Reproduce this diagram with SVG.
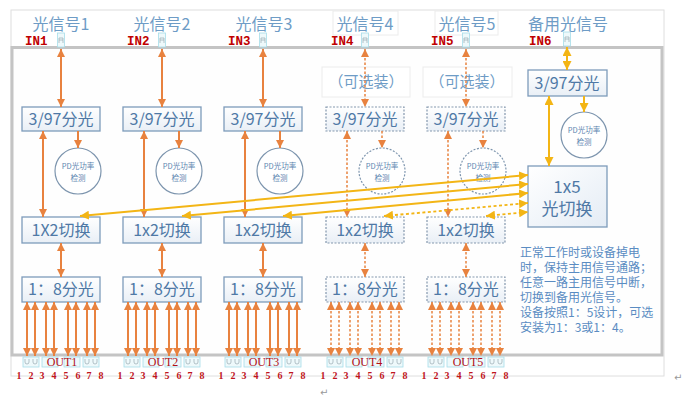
<svg xmlns="http://www.w3.org/2000/svg" width="689" height="411" viewBox="0 0 689 411">
<defs>
<linearGradient id="g" x1="0" y1="0" x2="0" y2="1"><stop offset="0" stop-color="#ffffff"/><stop offset="1" stop-color="#e9eff6"/></linearGradient>
<linearGradient id="g2" x1="0" y1="0" x2="1" y2="1"><stop offset="0" stop-color="#ffffff"/><stop offset="1" stop-color="#e4ecf5"/></linearGradient>
<marker id="mo" viewBox="0 0 10 10" refX="10" refY="5" markerWidth="8" markerHeight="8" markerUnits="userSpaceOnUse" orient="auto-start-reverse"><path d="M0,0 L10,5 L0,10 z" fill="#e8823f"/></marker>
<marker id="my" viewBox="0 0 10 10" refX="10" refY="5" markerWidth="9" markerHeight="9" markerUnits="userSpaceOnUse" orient="auto-start-reverse"><path d="M0,0 L10,5 L0,10 z" fill="#f3b515"/></marker>
<style>
.box{fill:url(#g);stroke:#7d9bbb;stroke-width:1.3}
.dbox{fill:url(#g);stroke:#8497ad;stroke-width:1.2;stroke-dasharray:2 1.5}
.circ{fill:#fff;stroke:#7d95ae;stroke-width:1.2}
.dcirc{fill:#fff;stroke:#7d95ae;stroke-width:1.2;stroke-dasharray:2 1.5}
.faint{fill:#fff;stroke:#ececec;stroke-width:1}
text{font-family:"Noto Sans CJK SC","Noto Sans",sans-serif}
.bt{font-size:16px;fill:#4f79a6;text-anchor:middle}
.pd{font-size:7.5px;fill:#5d86b0;text-anchor:middle}
.ti{font-size:16px;fill:#6e9cc6;text-anchor:middle}
.opt{font-size:15px;fill:#6e9cc6;text-anchor:middle}
.in{font-family:"Liberation Mono",monospace;font-weight:bold;font-size:12.5px;fill:#c00000}
.out{font-family:"Liberation Serif",serif;font-size:12px;fill:#b01018;text-anchor:middle}
.dg{font-family:"Liberation Serif",serif;font-weight:bold;font-size:10px;fill:#c0141c;text-anchor:middle}
.note{font-size:12px;fill:#5a8cc2}
.pm{font-family:"DejaVu Sans",sans-serif;font-size:10px;fill:#999}
.o{stroke:#e8823f;stroke-width:2;fill:none}
.od{stroke:#e8823f;stroke-width:1.5;stroke-dasharray:2.5 2;fill:none}
.y{stroke:#f3b515;stroke-width:2;fill:none}
.yd{stroke:#f3b515;stroke-width:1.8;stroke-dasharray:3 2.5;fill:none}
.port{fill:#eef9fb;stroke:#a6dde9;stroke-width:0.8}
.pi{fill:none;stroke:#9aaab2;stroke-width:0.7}
</style>
</defs>
<rect width="689" height="411" fill="#fff"/>
<g id="frame">
<rect x="11" y="10" width="653" height="366" fill="#fff" stroke="#dedede" stroke-width="1"/>
<rect x="12" y="47.5" width="650" height="307.5" fill="#fefefe" stroke="#c4c4c4" stroke-width="3"/>
</g>
<g id="titles">
<rect class="faint" x="333" y="11" width="65" height="24"/>
<rect class="faint" x="435" y="11" width="63" height="24"/>
<text class="ti" x="61" y="30">光信号1</text>
<text class="ti" x="162" y="30">光信号2</text>
<text class="ti" x="264" y="30">光信号3</text>
<text class="ti" x="365" y="30">光信号4</text>
<text class="ti" x="467" y="30">光信号5</text>
<text class="ti" x="568" y="30">备用光信号</text>
<text class="in" x="25" y="45">IN1</text>
<text class="in" x="127" y="45">IN2</text>
<text class="in" x="228" y="45">IN3</text>
<text class="in" x="331" y="45">IN4</text>
<text class="in" x="431" y="45">IN5</text>
<text class="in" x="529" y="45">IN6</text>
</g>
<g id="in-ports">
<g><rect class="port" x="57.5" y="33" width="7" height="14"/><path class="pi" d="M59,43 v-5 h4 v5 M59,40 h4"/></g>
<g><rect class="port" x="158.5" y="33" width="7" height="14"/><path class="pi" d="M160,43 v-5 h4 v5 M160,40 h4"/></g>
<g><rect class="port" x="259.5" y="33" width="7" height="14"/><path class="pi" d="M261,43 v-5 h4 v5 M261,40 h4"/></g>
<g><rect class="port" x="361.5" y="33" width="7" height="14"/><path class="pi" d="M363,43 v-5 h4 v5 M363,40 h4"/></g>
<g><rect class="port" x="462.5" y="33" width="7" height="14"/><path class="pi" d="M464,43 v-5 h4 v5 M464,40 h4"/></g>
<g><rect class="port" x="563.5" y="32" width="7" height="14"/><path class="pi" d="M565,42 v-5 h4 v5 M565,39 h4"/></g>
</g>
<g id="optional-labels">
<rect class="faint" x="322" y="67" width="88" height="30"/>
<rect class="faint" x="423" y="67" width="89" height="30"/>
<text class="opt" x="366" y="87">（可选装）</text>
<text class="opt" x="467" y="87">（可选装）</text>
</g>
<g id="split1"><rect class="box" x="22" y="107" width="78" height="24"/><text class="bt" x="61" y="125">3/97分光</text></g>
<g id="split2"><rect class="box" x="123" y="107" width="78" height="24"/><text class="bt" x="162" y="125">3/97分光</text></g>
<g id="split3"><rect class="box" x="224" y="107" width="78" height="24"/><text class="bt" x="263" y="125">3/97分光</text></g>
<g id="split4"><rect class="dbox" x="326" y="107" width="78" height="24"/><text class="bt" x="365" y="125">3/97分光</text></g>
<g id="split5"><rect class="dbox" x="427" y="107" width="78" height="24"/><text class="bt" x="466" y="125">3/97分光</text></g>
<g id="split6"><rect class="box" x="528" y="70" width="79" height="26"/><text class="bt" x="567" y="89">3/97分光</text></g>
<g id="pd1"><circle class="circ" cx="78" cy="171" r="23"/><text class="pd" x="78" y="169">PD光功率</text><text class="pd" x="78" y="181">检测</text></g>
<g id="pd2"><circle class="circ" cx="179" cy="171" r="23"/><text class="pd" x="179" y="169">PD光功率</text><text class="pd" x="179" y="181">检测</text></g>
<g id="pd3"><circle class="circ" cx="280" cy="171" r="23"/><text class="pd" x="280" y="169">PD光功率</text><text class="pd" x="280" y="181">检测</text></g>
<g id="pd4"><circle class="dcirc" cx="382" cy="171" r="23"/><text class="pd" x="382" y="169">PD光功率</text><text class="pd" x="382" y="181">检测</text></g>
<g id="pd5"><circle class="dcirc" cx="483" cy="171" r="23"/><text class="pd" x="483" y="169">PD光功率</text><text class="pd" x="483" y="181">检测</text></g>
<g id="pd6"><circle class="circ" cx="584" cy="135" r="23"/><text class="pd" x="584" y="133">PD光功率</text><text class="pd" x="584" y="145">检测</text></g>
<g id="sw1"><rect class="box" x="22" y="217" width="78" height="26"/><text class="bt" x="61" y="236">1X2切换</text></g>
<g id="sw2"><rect class="box" x="123" y="217" width="78" height="26"/><text class="bt" x="162" y="236">1x2切换</text></g>
<g id="sw3"><rect class="box" x="224" y="217" width="78" height="26"/><text class="bt" x="263" y="236">1x2切换</text></g>
<g id="sw4"><rect class="dbox" x="326" y="217" width="78" height="26"/><text class="bt" x="365" y="236">1x2切换</text></g>
<g id="sw5"><rect class="dbox" x="427" y="217" width="78" height="26"/><text class="bt" x="466" y="236">1x2切换</text></g>
<g id="sw15"><rect fill="url(#g2)" stroke="#7d9bbb" stroke-width="1.3" x="528" y="166" width="79" height="61"/><text class="bt" x="567" y="193" style="font-size:17px">1x5</text><text class="bt" x="567" y="215" style="font-size:17px">光切换</text></g>
<g id="div1"><rect class="box" x="22" y="277" width="78" height="25"/><text class="bt" x="61" y="295">1：8分光</text></g>
<g id="div2"><rect class="box" x="123" y="277" width="78" height="25"/><text class="bt" x="162" y="295">1：8分光</text></g>
<g id="div3"><rect class="box" x="224" y="277" width="78" height="25"/><text class="bt" x="263" y="295">1：8分光</text></g>
<g id="div4"><rect class="dbox" x="326" y="277" width="78" height="25"/><text class="bt" x="365" y="295">1：8分光</text></g>
<g id="div5"><rect class="dbox" x="427" y="277" width="78" height="25"/><text class="bt" x="466" y="295">1：8分光</text></g>
<g id="note">
<text class="note" x="520" y="257">正常工作时或设备掉电</text>
<text class="note" x="520" y="272">时，保持主用信号通路；</text>
<text class="note" x="520" y="287">任意一路主用信号中断，</text>
<text class="note" x="520" y="302">切换到备用光信号。</text>
<text class="note" x="520" y="317">设备按照1：5设计，可选</text>
<text class="note" x="520" y="332">安装为1：3或1：4。</text>
</g>
<g id="connectors">
<g marker-start="url(#mo)" marker-end="url(#mo)">
<line class="o" x1="61" y1="49" x2="61" y2="107"/>
<line class="o" x1="162" y1="49" x2="162" y2="107"/>
<line class="o" x1="263" y1="49" x2="263" y2="107"/>
<line class="od" x1="365" y1="49" x2="365" y2="107"/>
<line class="od" x1="466" y1="49" x2="466" y2="107"/>
<line class="o" x1="43" y1="131" x2="43" y2="217"/>
<line class="o" x1="144" y1="131" x2="144" y2="217"/>
<line class="o" x1="245" y1="131" x2="245" y2="217"/>
<line class="od" x1="347" y1="131" x2="347" y2="217"/>
<line class="od" x1="448" y1="131" x2="448" y2="217"/>
<line class="o" x1="61" y1="243" x2="61" y2="277"/>
<line class="o" x1="162" y1="243" x2="162" y2="277"/>
<line class="o" x1="263" y1="243" x2="263" y2="277"/>
<line class="od" x1="365" y1="243" x2="365" y2="277"/>
<line class="od" x1="466" y1="243" x2="466" y2="277"/>
</g>
<g marker-end="url(#mo)">
<line class="o" x1="78" y1="131" x2="78" y2="148"/>
<line class="o" x1="179" y1="131" x2="179" y2="148"/>
<line class="o" x1="280" y1="131" x2="280" y2="148"/>
<line class="od" x1="382" y1="131" x2="382" y2="148"/>
<line class="od" x1="483" y1="131" x2="483" y2="148"/>
</g>
<g marker-start="url(#mo)" marker-end="url(#mo)">
<line class="o" x1="27" y1="302" x2="27" y2="356"/><line class="o" x1="35" y1="302" x2="35" y2="356"/><line class="o" x1="46" y1="302" x2="46" y2="356"/><line class="o" x1="54" y1="302" x2="54" y2="356"/><line class="o" x1="68" y1="302" x2="68" y2="356"/><line class="o" x1="76" y1="302" x2="76" y2="356"/><line class="o" x1="87" y1="302" x2="87" y2="356"/><line class="o" x1="95" y1="302" x2="95" y2="356"/>
<line class="o" x1="128" y1="302" x2="128" y2="356"/><line class="o" x1="136" y1="302" x2="136" y2="356"/><line class="o" x1="147" y1="302" x2="147" y2="356"/><line class="o" x1="155" y1="302" x2="155" y2="356"/><line class="o" x1="169" y1="302" x2="169" y2="356"/><line class="o" x1="177" y1="302" x2="177" y2="356"/><line class="o" x1="188" y1="302" x2="188" y2="356"/><line class="o" x1="196" y1="302" x2="196" y2="356"/>
<line class="o" x1="229" y1="302" x2="229" y2="356"/><line class="o" x1="237" y1="302" x2="237" y2="356"/><line class="o" x1="248" y1="302" x2="248" y2="356"/><line class="o" x1="256" y1="302" x2="256" y2="356"/><line class="o" x1="270" y1="302" x2="270" y2="356"/><line class="o" x1="278" y1="302" x2="278" y2="356"/><line class="o" x1="289" y1="302" x2="289" y2="356"/><line class="o" x1="297" y1="302" x2="297" y2="356"/>
<line class="od" x1="331" y1="302" x2="331" y2="356"/><line class="od" x1="339" y1="302" x2="339" y2="356"/><line class="od" x1="350" y1="302" x2="350" y2="356"/><line class="od" x1="358" y1="302" x2="358" y2="356"/><line class="od" x1="372" y1="302" x2="372" y2="356"/><line class="od" x1="380" y1="302" x2="380" y2="356"/><line class="od" x1="391" y1="302" x2="391" y2="356"/><line class="od" x1="399" y1="302" x2="399" y2="356"/>
<line class="od" x1="432" y1="302" x2="432" y2="356"/><line class="od" x1="440" y1="302" x2="440" y2="356"/><line class="od" x1="451" y1="302" x2="451" y2="356"/><line class="od" x1="459" y1="302" x2="459" y2="356"/><line class="od" x1="473" y1="302" x2="473" y2="356"/><line class="od" x1="481" y1="302" x2="481" y2="356"/><line class="od" x1="492" y1="302" x2="492" y2="356"/><line class="od" x1="500" y1="302" x2="500" y2="356"/>
</g>
<g marker-start="url(#my)" marker-end="url(#my)">
<line class="y" x1="567" y1="47" x2="567" y2="70"/>
<line class="y" x1="549" y1="96" x2="549" y2="166"/>
<line class="y" x1="80" y1="216" x2="528" y2="175"/>
<line class="y" x1="182" y1="216" x2="528" y2="184"/>
<line class="y" x1="283" y1="216" x2="528" y2="193"/>
<line class="yd" x1="384" y1="216" x2="528" y2="203"/>
<line class="yd" x1="486" y1="216" x2="528" y2="212"/>
</g>
<line class="y" x1="584" y1="96" x2="584" y2="112" marker-end="url(#my)"/>
</g>
<g id="out-ports">
<g fill="none">
<rect class="port" x="23" y="357" width="16" height="10"/><rect class="port" x="42" y="357" width="16" height="10"/><rect class="port" x="64" y="357" width="16" height="10"/><rect class="port" x="83" y="357" width="16" height="10"/>
<rect class="port" x="124" y="357" width="16" height="10"/><rect class="port" x="143" y="357" width="16" height="10"/><rect class="port" x="165" y="357" width="16" height="10"/><rect class="port" x="184" y="357" width="16" height="10"/>
<rect class="port" x="225" y="357" width="16" height="10"/><rect class="port" x="244" y="357" width="16" height="10"/><rect class="port" x="266" y="357" width="16" height="10"/><rect class="port" x="285" y="357" width="16" height="10"/>
<rect class="port" x="327" y="357" width="16" height="10"/><rect class="port" x="346" y="357" width="16" height="10"/><rect class="port" x="368" y="357" width="16" height="10"/><rect class="port" x="387" y="357" width="16" height="10"/>
<rect class="port" x="428" y="357" width="16" height="10"/><rect class="port" x="447" y="357" width="16" height="10"/><rect class="port" x="469" y="357" width="16" height="10"/><rect class="port" x="488" y="357" width="16" height="10"/>
</g>
<path class="pi" d="M25,359v3a2,2 0 0 0 4,0v-3 M33,359v3a2,2 0 0 0 4,0v-3 M85,359v3a2,2 0 0 0 4,0v-3 M93,359v3a2,2 0 0 0 4,0v-3 M126,359v3a2,2 0 0 0 4,0v-3 M134,359v3a2,2 0 0 0 4,0v-3 M186,359v3a2,2 0 0 0 4,0v-3 M194,359v3a2,2 0 0 0 4,0v-3 M227,359v3a2,2 0 0 0 4,0v-3 M235,359v3a2,2 0 0 0 4,0v-3 M287,359v3a2,2 0 0 0 4,0v-3 M295,359v3a2,2 0 0 0 4,0v-3 M329,359v3a2,2 0 0 0 4,0v-3 M337,359v3a2,2 0 0 0 4,0v-3 M389,359v3a2,2 0 0 0 4,0v-3 M397,359v3a2,2 0 0 0 4,0v-3 M430,359v3a2,2 0 0 0 4,0v-3 M438,359v3a2,2 0 0 0 4,0v-3 M490,359v3a2,2 0 0 0 4,0v-3 M498,359v3a2,2 0 0 0 4,0v-3"/>
<text class="out" x="62" y="366">OUT1</text>
<text class="out" x="163" y="366">OUT2</text>
<text class="out" x="264" y="366">OUT3</text>
<text class="out" x="367" y="366">OUT4</text>
<text class="out" x="468" y="366">OUT5</text>
<text class="dg"><tspan x="19" y="379">1</tspan><tspan x="31" y="379">2</tspan><tspan x="42" y="379">3</tspan><tspan x="54" y="379">4</tspan><tspan x="66" y="379">5</tspan><tspan x="78" y="379">6</tspan><tspan x="89" y="379">7</tspan><tspan x="101" y="379">8</tspan></text>
<text class="dg"><tspan x="120" y="379">1</tspan><tspan x="132" y="379">2</tspan><tspan x="143" y="379">3</tspan><tspan x="155" y="379">4</tspan><tspan x="167" y="379">5</tspan><tspan x="179" y="379">6</tspan><tspan x="190" y="379">7</tspan><tspan x="202" y="379">8</tspan></text>
<text class="dg"><tspan x="221" y="379">1</tspan><tspan x="233" y="379">2</tspan><tspan x="244" y="379">3</tspan><tspan x="256" y="379">4</tspan><tspan x="268" y="379">5</tspan><tspan x="280" y="379">6</tspan><tspan x="291" y="379">7</tspan><tspan x="303" y="379">8</tspan></text>
<text class="dg"><tspan x="323" y="379">1</tspan><tspan x="335" y="379">2</tspan><tspan x="346" y="379">3</tspan><tspan x="358" y="379">4</tspan><tspan x="370" y="379">5</tspan><tspan x="382" y="379">6</tspan><tspan x="393" y="379">7</tspan><tspan x="405" y="379">8</tspan></text>
<text class="dg"><tspan x="424" y="379">1</tspan><tspan x="436" y="379">2</tspan><tspan x="447" y="379">3</tspan><tspan x="459" y="379">4</tspan><tspan x="471" y="379">5</tspan><tspan x="483" y="379">6</tspan><tspan x="494" y="379">7</tspan><tspan x="506" y="379">8</tspan></text>
</g>
<g id="para-marks">
<text class="pm" x="320" y="396">↵</text>
<text class="pm" x="674" y="381">↵</text>
</g>
</svg>
